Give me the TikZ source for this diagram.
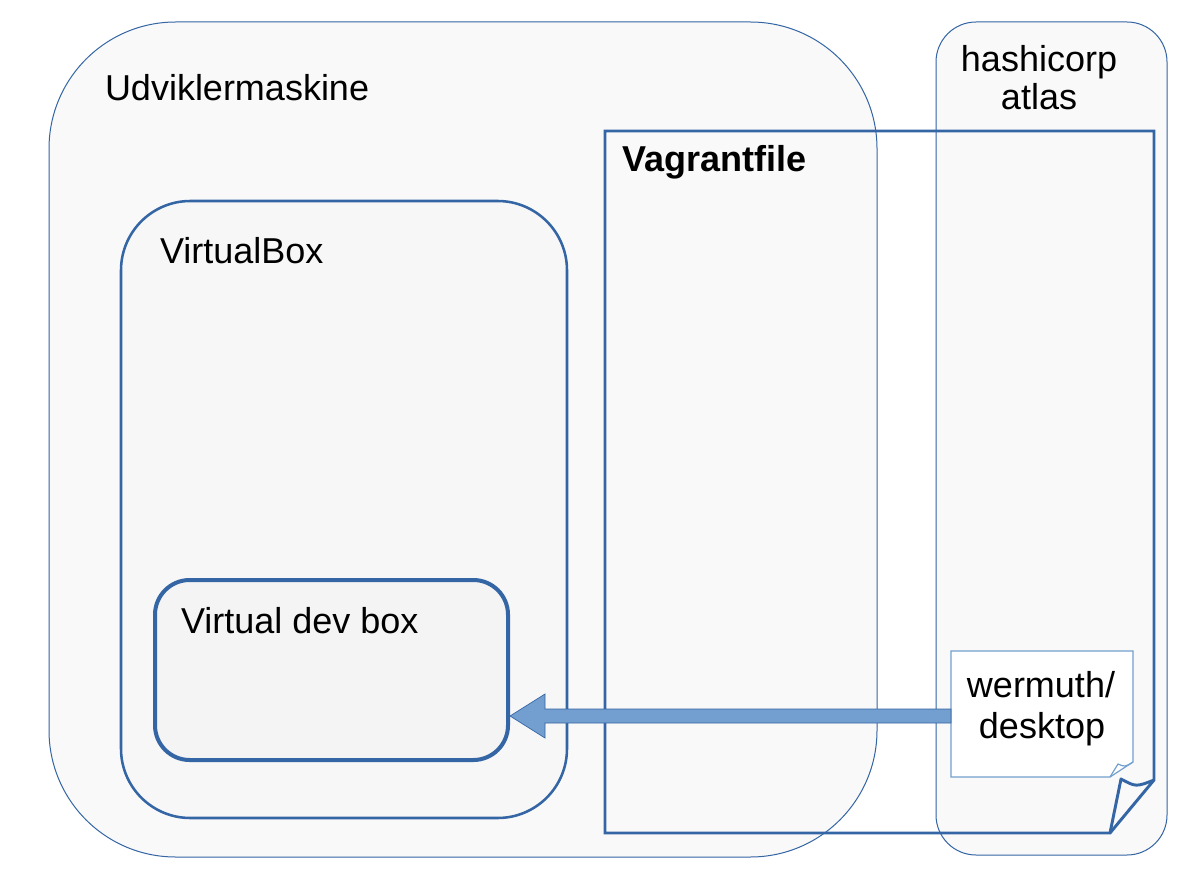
\documentclass[tikz,border=0pt]{standalone}
\usepackage{fontspec}
\setmainfont{Liberation Sans}
\usetikzlibrary{calc}
\definecolor{bord}{HTML}{3465A4}
\definecolor{lblue}{HTML}{729FCF}
\definecolor{fillA}{HTML}{F9F9F9}
\definecolor{fillB}{HTML}{F7F7F7}
\definecolor{fillC}{HTML}{F4F4F4}
\tikzset{
  box/.style={draw=bord, rectangle, inner sep=0pt, outer sep=0pt, anchor=north west},
  lbl/.style={inner sep=0pt, outer sep=0pt, font=\fontsize{27}{31}\selectfont},
  bigarrow/.style={fill=lblue, draw=bord, line width=0.5pt, line join=miter},
}
\begin{document}
\begin{tikzpicture}[x=0.75pt, y=-0.75pt]
\useasboundingbox[fill=white] (0,0) rectangle (1184,873);
% outer containers
\node[box, fill=fillA, line width=0.75pt, rounded corners=95pt,
      minimum width=621pt, minimum height=626.25pt] (udv) at (49,22) {};
\node[box, fill=fillA, line width=0.75pt, rounded corners=30pt,
      minimum width=173.25pt, minimum height=624.75pt] (atlas) at (936,22) {};
\node[box, fill=fillB, line width=1.9pt, rounded corners=52pt,
      minimum width=334.5pt, minimum height=462.75pt] (vbox) at (121,201) {};
\node[box, fill=fillC, line width=3pt, rounded corners=26pt,
      minimum width=264.75pt, minimum height=135pt] (dev) at (155,580) {};
% Vagrantfile (document shape, no fill)
\node[box, draw=none, minimum width=411.75pt, minimum height=526.5pt] (vag) at (605,131) {};
\draw[bord, line width=2.2pt, line join=miter]
  (605,131) -- (1154,131) -- (1154,780) -- (1110,833) -- (605,833) -- cycle;
\draw[bord, line width=2.2pt, line join=round]
  (1110,833) -- (1121,779) .. controls (1136,787) .. (1154,780);
% note wermuth/desktop
\node[box, draw=none, minimum width=136.5pt, minimum height=94.5pt] (note) at (951,651) {};
\draw[lblue, fill=white, line width=0.9pt]
  (951,651) -- (1133,651) -- (1133,762) -- (1110,777) -- (951,777) -- cycle;
\draw[lblue, line width=0.9pt]
  (1110,777) -- (1118,764) .. controls (1125,767) .. (1133,762);
% labels
\node[lbl, anchor=base west] (tudv) at (105,101) {Udviklermaskine};
\node[lbl, anchor=base] (tatl1) at (1039,72) {hashicorp};
\node[lbl, anchor=base] (tatl2) at (1039,110) {atlas};
\node[lbl, anchor=base west, font=\fontsize{27}{31}\selectfont\bfseries] (tvag) at (622,172) {Vagrantfile};
\node[lbl, anchor=base west] (tvbox) at (160,264) {VirtualBox};
\node[lbl, anchor=base west] (tdev) at (181,633) {Virtual dev box};
\node[lbl, anchor=base] (tn1) at (1041,697) {wermuth/};
\node[lbl, anchor=base] (tn2) at (1042,738) {desktop};
% arrow from note to dev box
\coordinate (A1) at ($(note.west)+(0,2)$);
\coordinate (A2) at ($(dev.east |- A1)+(2,0)$);
\draw[bigarrow]
  ($(A1)+(0,-7)$) -- ($(A2)+(35,-7)$) -- ($(A2)+(35,-22)$) -- (A2)
  -- ($(A2)+(35,22)$) -- ($(A2)+(35,7)$) -- ($(A1)+(0,7)$) -- cycle;
\end{tikzpicture}
\end{document}
